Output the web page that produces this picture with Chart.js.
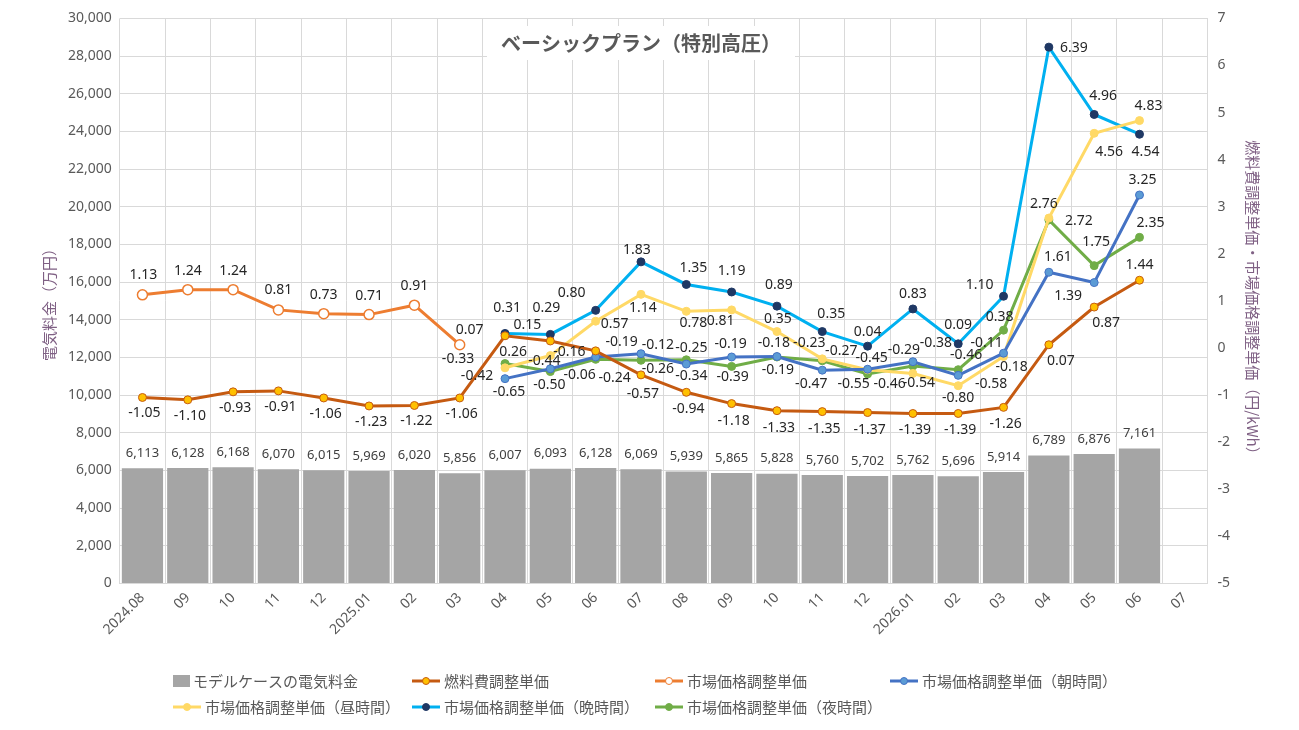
<!DOCTYPE html>
<html>
<head>
<meta charset="utf-8">
<script src="https://cdn.jsdelivr.net/npm/chart.js@4/dist/chart.umd.min.js"></script>
<style>
  html, body { margin: 0; padding: 0; background: #fff; }
  #wrap { width: 1299px; height: 730px; position: relative; }
</style>
</head>
<body>
<div id="wrap"><canvas id="chart"></canvas></div>
<script>
var months = ['2024.08','09','10','11','12','2025.01','02','03','04','05','06','07',
              '08','09','10','11','12','2026.01','02','03','04','05','06','07'];

// モデルケースの電気料金 (万円)
var bill = [6113,6128,6168,6070,6015,5969,6020,5856,6007,6093,6128,6069,
            5939,5865,5828,5760,5702,5762,5696,5914,6789,6876,7161,null];
// 燃料費調整単価 (円/kWh)
var fuel = [-1.05,-1.10,-0.93,-0.91,-1.06,-1.23,-1.22,-1.06,0.26,0.15,-0.06,-0.57,
            -0.94,-1.18,-1.33,-1.35,-1.37,-1.39,-1.39,-1.26,0.07,0.87,1.44,null];
// 市場価格調整単価
var market = [1.13,1.24,1.24,0.81,0.73,0.71,0.91,0.07,null,null,null,null,
              null,null,null,null,null,null,null,null,null,null,null,null];
// 市場価格調整単価（朝時間）
var morning = [null,null,null,null,null,null,null,null,-0.65,-0.44,-0.19,-0.12,
               -0.34,-0.19,-0.18,-0.47,-0.45,-0.29,-0.58,-0.11,1.61,1.39,3.25,null];
// 市場価格調整単価（昼時間）
var daytime = [null,null,null,null,null,null,null,null,-0.42,-0.16,0.57,1.14,
               0.78,0.81,0.35,-0.23,-0.46,-0.54,-0.80,-0.18,2.76,4.56,4.83,null];
// 市場価格調整単価（晩時間）
var evening = [null,null,null,null,null,null,null,null,0.31,0.29,0.80,1.83,
               1.35,1.19,0.89,0.35,0.04,0.83,0.09,1.10,6.39,4.96,4.54,null];
// 市場価格調整単価（夜時間）
var night = [null,null,null,null,null,null,null,null,-0.33,-0.50,-0.24,-0.26,
             -0.25,-0.39,-0.19,-0.27,-0.55,-0.38,-0.46,0.38,2.72,1.75,2.35,null];

// label offsets from each point, "dx,dy" in px ('-' = none)
function offs(s) {
  return s.split(' ').map(function (t) {
    return t === '-' ? null : t.split(',').map(Number);
  });
}
var offFuel    = offs('2,16 2,16 2,16 2,16 2,16 2,16 2,16 2,16 8,16 -23,-16 -16,24 2,19 ' +
                      '2,17 2,17 2,17 2,17 2,17 2,17 2,17 2,17 12,16 12,16 0,-15 -');
var offMarket  = offs('1,-20 0,-19 0,-19 0,-20 0,-19 0,-19 0,-19 10,-15 - - - - - - - - - - - - - - - -');
var offMorning = offs('- - - - - - - - 4,13 -6,-8 26,-15 17,-9 5,12 -1,-13 -3,-13 -11,14 ' +
                      '4,-11 -9,-12 33,9 -17,-10 9,-15 -26,13 3,-15 -');
var offDay     = offs('- - - - - - - - -28,8 19,-4 19,3 2,14 7,12 -11,11 1,-13 -13,-16 ' +
                      '22,14 6,10 0,12 8,11 -5,-14 15,19 9,-15 -');
var offEvening = offs('- - - - - - - - 2,-25 -4,-26 -24,-17 -4,-12 7,-16 0,-21 2,-21 9,-18 ' +
                      '0,-14 0,-15 0,-19 -24,-11 25,1 9,-18 6,18 -');
var offNight   = offs('- - - - - - - - -47,-5 -1,13 19,19 17,9 5,-12 1,11 1,13 19,-10 ' +
                      '-14,10 23,-23 8,-15 -4,-13 30,1 2,-24 11,-14 -');

var labelFont = '14px "Noto Sans", "Noto Sans CJK JP", sans-serif';
var jpFont = '"Noto Sans CJK JP", "Noto Sans", sans-serif';

function lineSet(label, data, color, markFill, markBorder, off, hollow) {
  return {
    type: 'line',
    label: label,
    data: data,
    yAxisID: 'y1',
    borderColor: color,
    backgroundColor: markFill,
    borderWidth: 3,
    pointRadius: hollow ? 5 : 4,
    pointBackgroundColor: markFill,
    pointBorderColor: markBorder,
    pointBorderWidth: hollow ? 1.5 : 1,
    spanGaps: false,
    order: 1,
    labelOff: off
  };
}

var labelsPlugin = {
  id: 'valueLabels',
  afterDatasetsDraw: function (chart) {
    var ctx = chart.ctx;
    ctx.save();
    ctx.textAlign = 'center';
    ctx.textBaseline = 'middle';
    chart.data.datasets.forEach(function (ds, di) {
      var meta = chart.getDatasetMeta(di);
      ds.data.forEach(function (v, i) {
        if (v === null) return;
        var el = meta.data[i];
        if (ds.type === 'bar') {
          ctx.font = '13px "Liberation Sans Narrow", "Noto Sans", sans-serif';
          ctx.fillStyle = '#404040';
          ctx.fillText(v.toLocaleString('en-US'), el.x, el.y - 15);
          return;
        }
        var p = ds.labelOff[i] || [0, -15];
        ctx.font = labelFont;
        ctx.fillStyle = '#262626';
        ctx.fillText(v.toFixed(2), el.x + p[0], el.y + p[1]);
      });
    });
    ctx.restore();
  }
};

var titlePlugin = {
  id: 'boxTitle',
  afterDraw: function (chart) {
    var ctx = chart.ctx;
    var text = 'ベーシックプラン（特別高圧）';
    ctx.save();
    ctx.font = 'bold 20px ' + jpFont;
    var w = ctx.measureText(text).width;
    var cx = 641, cy = 43;
    ctx.fillStyle = '#fff';
    ctx.fillRect(cx - w / 2 - 14, cy - 17, w + 28, 34);
    ctx.fillStyle = '#595959';
    ctx.textAlign = 'center';
    ctx.textBaseline = 'middle';
    ctx.fillText(text, cx, cy);
    ctx.restore();
  }
};

var legendPlugin = {
  id: 'gridLegend',
  afterDraw: function (chart) {
    var ctx = chart.ctx;
    var cols = [173, 412, 655, 890];
    var rows = [681, 707];
    ctx.save();
    ctx.font = '15px ' + jpFont;
    ctx.textBaseline = 'middle';
    chart.data.datasets.forEach(function (ds, i) {
      var x = cols[i % 4], y = rows[Math.floor(i / 4)];
      if (i >= 4) x = cols[i - 4];
      if (ds.type === 'bar') {
        ctx.fillStyle = ds.backgroundColor;
        ctx.fillRect(x, y - 6, 17, 12);
        ctx.fillStyle = '#595959';
        ctx.fillText(ds.label, x + 20, y);
        return;
      }
      ctx.strokeStyle = ds.borderColor;
      ctx.lineWidth = 3;
      ctx.beginPath();
      ctx.moveTo(x, y);
      ctx.lineTo(x + 28, y);
      ctx.stroke();
      ctx.beginPath();
      ctx.arc(x + 14, y, 3.5, 0, Math.PI * 2);
      ctx.fillStyle = ds.pointBackgroundColor;
      ctx.fill();
      ctx.lineWidth = 1;
      ctx.strokeStyle = ds.pointBorderColor;
      ctx.stroke();
      ctx.fillStyle = '#595959';
      ctx.fillText(ds.label, x + 32, y);
    });
    ctx.restore();
  }
};

var config = {
  data: {
    labels: months,
    datasets: [
      {
        type: 'bar',
        label: 'モデルケースの電気料金',
        data: bill,
        yAxisID: 'y',
        backgroundColor: '#A5A5A5',
        categoryPercentage: 1.0,
        barPercentage: 0.91,
        order: 10
      },
      lineSet('燃料費調整単価', fuel, '#C55A11', '#FFC000', '#C55A11', offFuel),
      lineSet('市場価格調整単価', market, '#ED7D31', '#FFFFFF', '#ED7D31', offMarket, true),
      lineSet('市場価格調整単価（朝時間）', morning, '#4472C4', '#5B9BD5', '#4472C4', offMorning),
      lineSet('市場価格調整単価（昼時間）', daytime, '#FFD966', '#FFD966', '#FFD966', offDay),
      lineSet('市場価格調整単価（晩時間）', evening, '#00B0F0', '#1F3864', '#1F3864', offEvening),
      lineSet('市場価格調整単価（夜時間）', night, '#70AD47', '#70AD47', '#70AD47', offNight)
    ]
  },
  options: {
    responsive: true,
    maintainAspectRatio: false,
    animation: false,
    layout: { padding: { left: 38, right: 33, top: 2, bottom: 86 } },
    plugins: {
      legend: { display: false },
      tooltip: { enabled: false }
    },
    scales: {
      x: {
        offset: true,
        grid: { color: '#D9D9D9', offset: true, drawTicks: false },
        border: { color: '#D9D9D9' },
        ticks: {
          color: '#595959',
          font: { size: 14, family: '"Noto Sans", sans-serif' },
          maxRotation: 45,
          minRotation: 45,
          autoSkip: false,
          padding: 6
        }
      },
      y: {
        position: 'left',
        min: 0,
        max: 30000,
        ticks: {
          stepSize: 2000,
          color: '#595959',
          font: { size: 14, family: '"Noto Sans", sans-serif' },
          padding: 8,
          callback: function (v) { return v.toLocaleString('en-US'); }
        },
        grid: { color: '#D9D9D9', drawTicks: false },
        border: { display: false },
        title: {
          display: true,
          text: '電気料金（万円）',
          color: '#7F6084',
          font: { size: 15, family: jpFont },
          padding: 2
        }
      },
      y1: {
        position: 'right',
        min: -5,
        max: 7,
        ticks: {
          stepSize: 1,
          color: '#595959',
          font: { size: 14, family: '"Noto Sans", sans-serif' },
          padding: 10
        },
        grid: { drawOnChartArea: false, drawTicks: false },
        border: { color: '#D9D9D9' },
        title: {
          display: true,
          text: '燃料費調整単価・市場価格調整単価（円/kWh）',
          color: '#7F6084',
          font: { size: 15, family: jpFont },
          padding: 4
        }
      }
    }
  },
  plugins: [labelsPlugin, titlePlugin, legendPlugin]
};

var ctx = document.getElementById('chart').getContext('2d');
window.myChart = new Chart(ctx, config);
</script>
</body>
</html>
